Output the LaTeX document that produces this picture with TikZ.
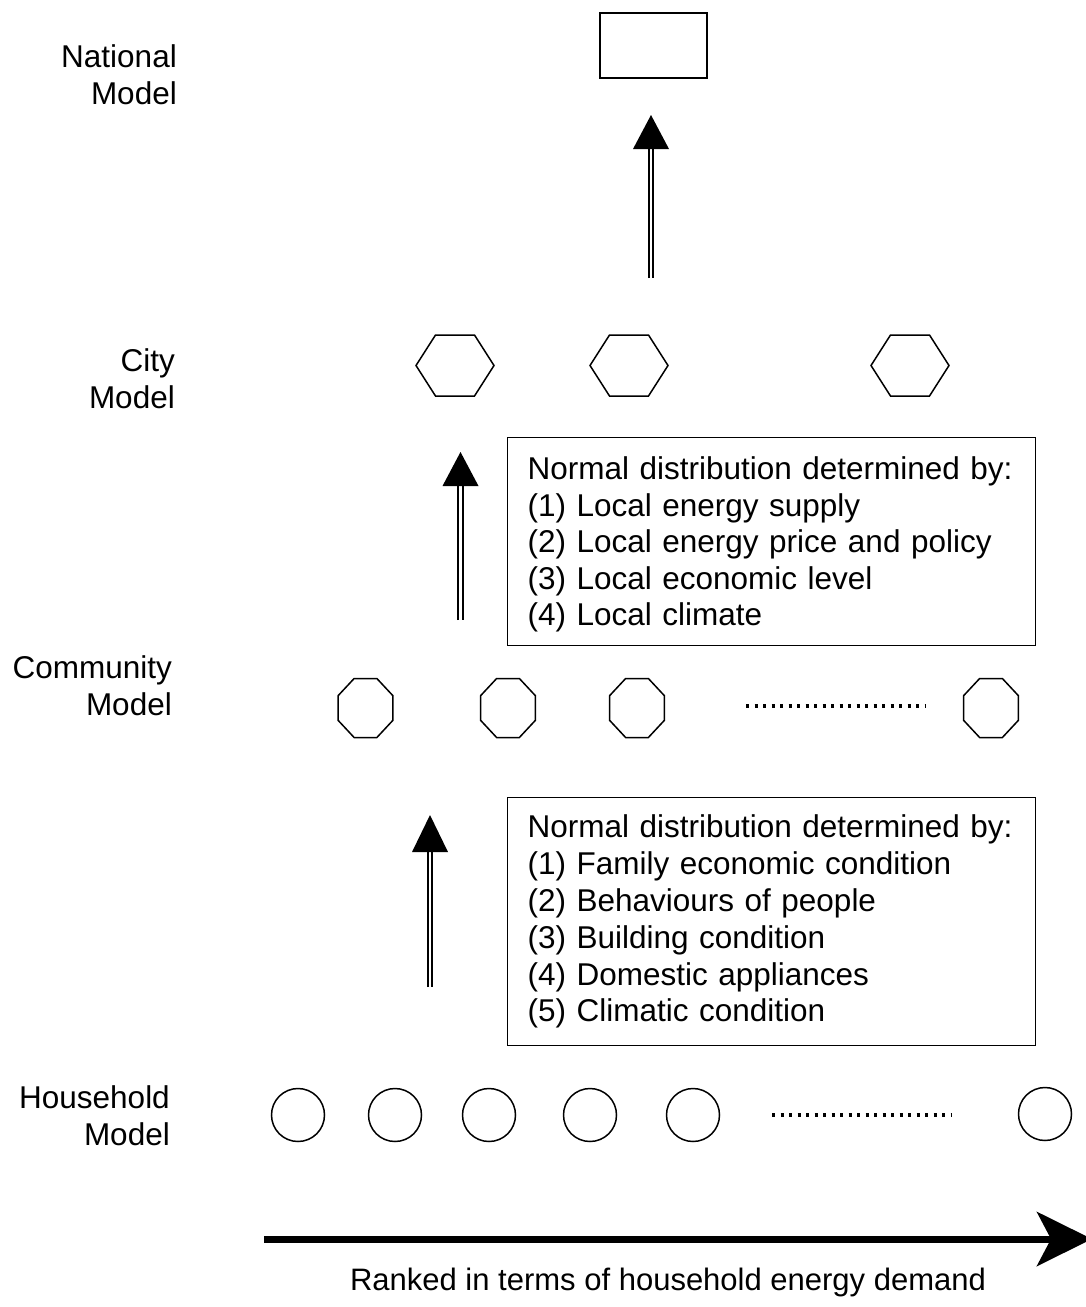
\documentclass[tikz,border=0pt]{standalone}
\usepackage{fontspec}
\setmainfont{Liberation Sans}
\usetikzlibrary{shapes.geometric,arrows.meta,calc}
\begin{document}
\begin{tikzpicture}[x=1pt,y=-1pt,
  lbl/.style={anchor=base east, align=right, inner sep=0pt, font=\fontsize{31.5}{36.5}\selectfont},
  topbox/.style={draw, line width=1.3pt, minimum width=107pt, minimum height=65pt, inner sep=0pt},
  hexa/.style={draw, line width=1.5pt, regular polygon, regular polygon sides=6, minimum size=78pt, inner sep=0pt, yscale=0.903, transform shape},
  octa/.style={draw, line width=1.5pt, regular polygon, regular polygon sides=8, minimum size=59.5pt, inner sep=0pt, yscale=1.073, transform shape},
  hh/.style={draw, line width=1.5pt, circle, minimum size=53pt, inner sep=0pt},
  shaft/.style={double, line width=1.8pt, double distance=2.6pt},
  head/.style={fill=black},
  dots/.style={line width=3.3pt, dash pattern=on 3.3pt off 5.2pt},
  infobox/.style={draw, line width=1.3pt, anchor=north west, text width=488pt, inner xsep=20pt, inner ysep=0pt, align=left},
  axis/.style={line width=7pt, -{Stealth[length=55pt,width=54pt,inset=14pt]}}
]
\useasboundingbox (0,0) rectangle (1085,1307);

% level labels
\node[lbl] (lnat) at (177,104) {National\\Model};
\node[lbl] (lcity) at (175,408) {City\\Model};
\node[lbl] (lcom) at (172,715) {Community\\Model};
\node[lbl] (lhh) at (170,1145) {Household\\Model};

% national model
\node[topbox] (nat) at (653.5,45.5) {};

% arrow city -> national
\coordinate (a1s) at (651,278);
\coordinate (a1b) at (651,147);
\coordinate (a1t) at (651,115);
\draw[shaft] (a1s) -- (a1b);
\fill[head] ($(a1b)+(-18,2)$) -- (a1t) -- ($(a1b)+(18,2)$) -- cycle;

% city models
\node[hexa] (c1) at (455,365.5) {};
\node[hexa] (c2) at (629,365.5) {};
\node[hexa] (c3) at (910,365.5) {};

% arrow community -> city
\coordinate (a2s) at (460.5,620);
\coordinate (a2b) at (460.5,484);
\coordinate (a2t) at (460.5,452);
\draw[shaft] (a2s) -- (a2b);
\fill[head] ($(a2b)+(-18,2)$) -- (a2t) -- ($(a2b)+(18,2)$) -- cycle;

% info box 1
\node[infobox, minimum height=208pt, font=\fontsize{31.5}{36.5}\selectfont] (box1) at (507,437)
 {\rule{0pt}{28.5pt}Normal distribution determined by:\\
  (1) Local energy supply\\
  (2) Local energy price and policy\\
  (3) Local economic level\\
  (4) Local climate};

% community models
\node[octa] (m1) at (365.5,708) {};
\node[octa] (m2) at (508,708) {};
\node[octa] (m3) at (637,708) {};
\node[octa] (m4) at (991,708) {};
\coordinate (d1s) at (746,706);
\coordinate (d1e) at (926,706);
\draw[dots] (d1s) -- (d1e);

% arrow household -> community
\coordinate (a3s) at (430,987);
\coordinate (a3b) at (430,850);
\coordinate (a3t) at (430,815);
\draw[shaft] (a3s) -- (a3b);
\fill[head] ($(a3b)+(-18,2)$) -- (a3t) -- ($(a3b)+(18,2)$) -- cycle;

% info box 2
\node[infobox, minimum height=248pt, font=\fontsize{31.5}{36.8}\selectfont] (box2) at (507,797)
 {Normal distribution determined by:\\
  (1) Family economic condition\\
  (2) Behaviours of people\\
  (3) Building condition\\
  (4) Domestic appliances\\
  (5) Climatic condition};

% household models
\node[hh] (h1) at (298,1115) {};
\node[hh] (h2) at (395,1115) {};
\node[hh] (h3) at (489,1115) {};
\node[hh] (h4) at (590,1115) {};
\node[hh] (h5) at (693,1115) {};
\node[hh] (h6) at (1045,1114) {};
\coordinate (d2s) at (772,1115);
\coordinate (d2e) at (951,1115);
\draw[dots] (d2s) -- (d2e);

% ranking axis
\coordinate (rs) at (264,1239);
\coordinate (re) at (1092,1239);
\draw[axis] (rs) -- (re);
\node[anchor=base, inner sep=0pt, font=\fontsize{31}{36}\selectfont] (rank) at (668,1290) {Ranked in terms of household energy demand};
\end{tikzpicture}
\end{document}
